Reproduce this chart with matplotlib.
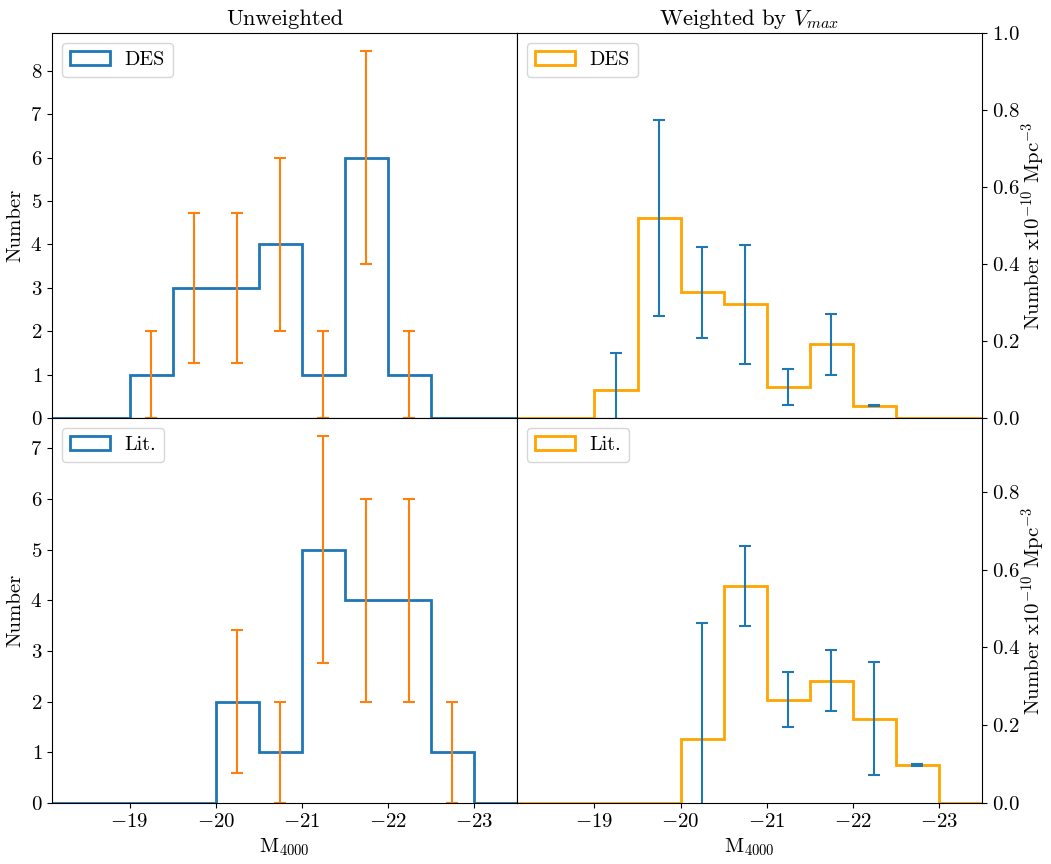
import numpy as np
import matplotlib
matplotlib.use("Agg")
import matplotlib.pyplot as plt

plt.rcParams['font.family'] = 'serif'
plt.rcParams['font.serif'] = ['cmr10']
plt.rcParams['mathtext.fontset'] = 'cm'
plt.rcParams['axes.formatter.use_mathtext'] = True
plt.rcParams['axes.unicode_minus'] = True

# bin edges (ascending, as required by hist) and bin centres of M4000
bin_edges = [-23.5, -23.0, -22.5, -22.0, -21.5, -21.0, -20.5, -20.0, -19.5, -19.0, -18.5, -18.0]
bin_centres = [-18.25, -18.75, -19.25, -19.75, -20.25, -20.75, -21.25, -21.75, -22.25, -22.75, -23.25]

# Unweighted counts and errors
des_counts = [0, 0, 1, 3, 3, 4, 1, 6, 1, 0, 0]
des_err = [0, 0, 1.0, 1.73, 1.73, 2.0, 1.0, 2.45, 1.0, 0, 0]
lit_counts = [0, 0, 0, 0, 2, 1, 5, 4, 4, 1, 0]
lit_err = [0, 0, 0, 0, 1.41, 1.0, 2.24, 2.0, 2.0, 1.0, 0]

# Weighted by Vmax (x1e-10 Mpc^-3)
des_w = [0, 0, 0.074, 0.520, 0.326, 0.295, 0.080, 0.191, 0.032, 0, 0]
des_w_err = [0, 0, 0.096, 0.254, 0.119, 0.155, 0.047, 0.079, 0.002, 0, 0]
lit_w = [0, 0, 0, 0, 0.164, 0.559, 0.266, 0.315, 0.217, 0.0975, 0]
lit_w_err = [0, 0, 0, 0, 0.300, 0.103, 0.070, 0.078, 0.146, 0.003, 0]

xticks = [-19, -20, -21, -22, -23]

FS = 15
fig, axes = plt.subplots(2, 2, figsize=(10.51, 8.64), dpi=100, sharex=True)
fig.subplots_adjust(left=0.0495, right=0.9343, top=0.9618, bottom=0.0706,
                    hspace=0, wspace=0)

panels = [
    (axes[0, 0], des_counts, des_err, 'DES', '#1f77b4', '#ff7f0e'),
    (axes[1, 0], lit_counts, lit_err, 'Lit.', '#1f77b4', '#ff7f0e'),
    (axes[0, 1], des_w, des_w_err, 'DES', 'orange', '#1f77b4'),
    (axes[1, 1], lit_w, lit_w_err, 'Lit.', 'orange', '#1f77b4'),
]

xc = np.array(bin_centres)
for ax, vals, errs, lab, scol, ecol in panels:
    v = np.array(vals)
    e = np.array(errs)
    m = v > 0
    ax.hist(bin_centres, bins=bin_edges, weights=vals, histtype='step',
            color=scol, lw=2, label=lab)
    ax.errorbar(xc[m], v[m], yerr=e[m], fmt='none', ecolor=ecol,
                elinewidth=1.5, capsize=4, capthick=1.5)
    ax.legend(loc='upper left', fontsize=14.5, handletextpad=0.7)
    ax.tick_params(labelsize=FS)

ax = axes[0, 0]
ax.set_xlim(-18.1, -23.5)
ax.set_xticks(xticks)
ax.set_ylim(bottom=0)
axes[1, 0].set_ylim(bottom=0)

axes[0, 0].set_ylabel('Number', fontsize=FS)
axes[1, 0].set_ylabel('Number', fontsize=FS)
axes[0, 0].set_title('Unweighted', fontsize=16.3)
axes[0, 1].set_title(r'Weighted by $V_{max}$', fontsize=16.3)

for a in (axes[0, 1], axes[1, 1]):
    a.yaxis.tick_right()
    a.yaxis.set_label_position('right')
    a.set_ylabel(r'Number x10$^{-10}$ Mpc$^{-3}$', fontsize=FS, labelpad=0)
axes[0, 1].set_ylim(0, 1.0)
axes[1, 1].set_ylim(0, 0.99)

for a in (axes[1, 0], axes[1, 1]):
    a.set_xlabel(r'M$_{4000}$', fontsize=FS)

fig.savefig('out.png', dpi=100)
